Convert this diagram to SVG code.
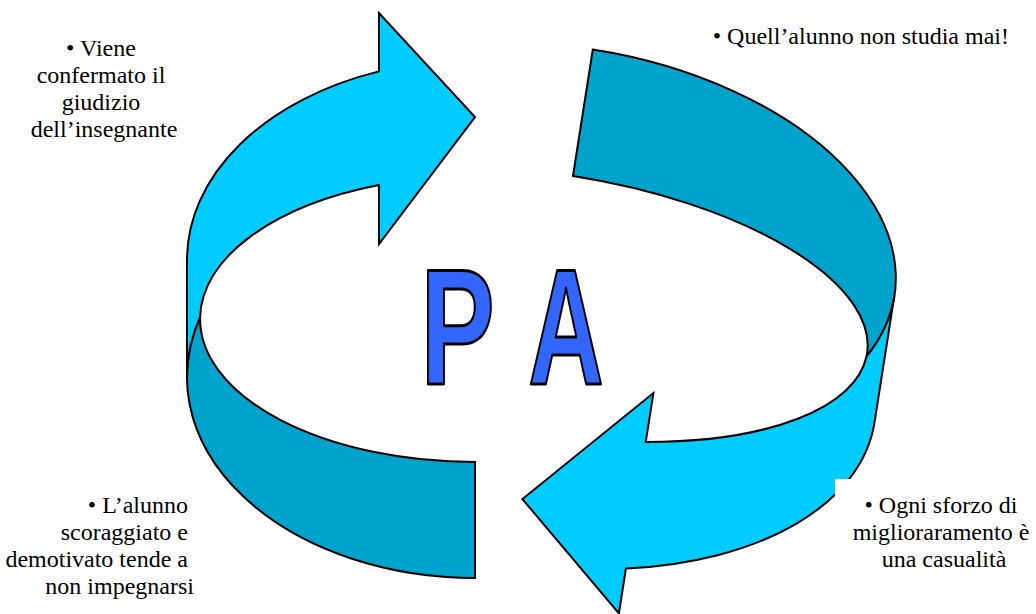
<svg xmlns="http://www.w3.org/2000/svg" width="1036" height="614" viewBox="0 0 1036 614">
<style>
.light{fill:#00CCFF;stroke:#000;stroke-width:2;stroke-linejoin:miter}
.dark{fill:#00A3CC;stroke:#000;stroke-width:2;stroke-linejoin:miter}
.lbl{font-size:24px;fill:#000}
.big{font-weight:bold;font-size:166px;fill:#3366FF;stroke:#000;stroke-width:2.5;stroke-linejoin:round}
</style>
<rect width="1036" height="614" fill="#fff"/>
<g id="connectors">
  <g id="arrow-left">
    <path class="dark" d="M200.1,317 A288,201 0 0 0 475,578 L475,462 A275,143 0 0 1 200.1,317 Z"/>
    <path class="light" d="M187,260 A288,200 0 0 1 379,71.4 L379,13 L475,117 L379,244 L379,185 A275,143 0 0 0 200.1,317 A288,201 0 0 0 187,377 Z"/>
  </g>
  <g id="arrow-right" transform="translate(573,176) rotate(188.9)">
    <path class="dark" d="M-317.9,-133 A336,197 0 0 0 0,128 L0,0 A318,130 0 0 1 -317.9,-133 Z"/>
    <path class="light" d="M-336,-197 A336,194 0 0 1 -113,-379.7 L-113,-425 L0,-327 L-113,-202 L-113,-251.5 A318,130 0 0 0 -317.9,-133 A336,197 0 0 0 -336,-69 Z"/>
  </g>
</g>
<rect x="835" y="479" width="201" height="135" fill="#fff"/>
<g id="center-PA" font-family="Liberation Sans, Arial, sans-serif">
  <text class="big" transform="translate(457.5,384) scale(0.67,1)" text-anchor="middle" vector-effect="non-scaling-stroke">P</text>
  <text class="big" transform="translate(566,384) scale(0.63,1)" text-anchor="middle" vector-effect="non-scaling-stroke">A</text>
</g>
<g id="node-top-right" font-family="Liberation Serif, DejaVu Serif, serif">
  <text class="lbl" x="1009" y="44" text-anchor="end">• Quell’alunno non studia mai!</text>
</g>
<g id="node-top-left" font-family="Liberation Serif, DejaVu Serif, serif">
  <text class="lbl" text-anchor="middle">
    <tspan x="104" y="56">• Viene</tspan>
    <tspan x="104" y="83">confermato il</tspan>
    <tspan x="104" y="110">giudizio</tspan>
    <tspan x="104" y="137">dell’insegnante</tspan>
  </text>
</g>
<g id="node-bottom-left" font-family="Liberation Serif, DejaVu Serif, serif">
  <text class="lbl" text-anchor="end">
    <tspan x="194" y="513">• L’alunno</tspan>
    <tspan x="194" y="540">scoraggiato e</tspan>
    <tspan x="194" y="567">demotivato tende a</tspan>
    <tspan x="194" y="594">non impegnarsi</tspan>
  </text>
</g>
<g id="node-bottom-right" font-family="Liberation Serif, DejaVu Serif, serif">
  <text class="lbl" text-anchor="middle">
    <tspan x="944" y="513">• Ogni sforzo di</tspan>
    <tspan x="944" y="540">miglioraramento è</tspan>
    <tspan x="944" y="567">una casualità</tspan>
  </text>
</g>
</svg>
